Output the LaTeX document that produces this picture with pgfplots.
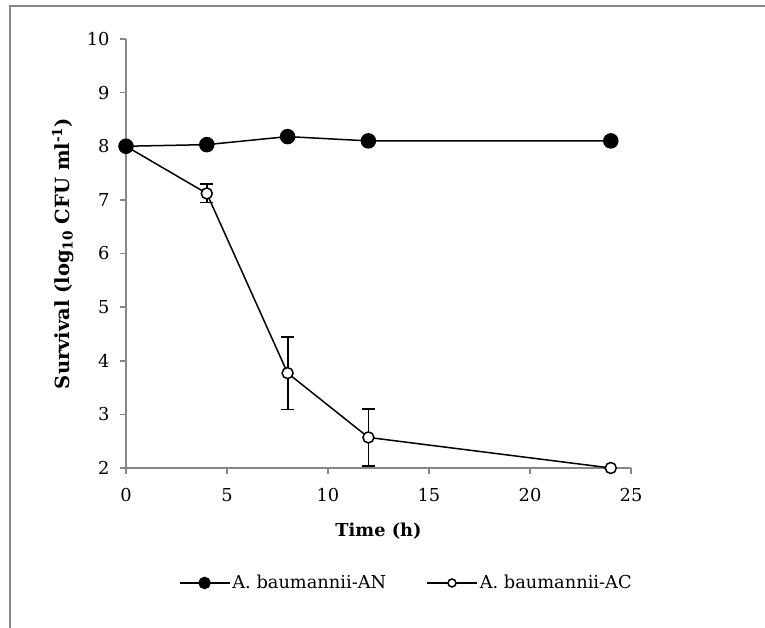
\documentclass[border=0pt]{standalone}
\usepackage{fontspec}
\setmainfont{DejaVu Serif}
\usepackage{pgfplots}
\pgfplotsset{compat=1.18}
\definecolor{axgray}{HTML}{868686}
\newcommand{\cf}{\fontsize{17.8}{21}\selectfont}
\newcommand{\yf}{\fontsize{19.5}{23}\selectfont}
\begin{document}
\begin{tikzpicture}
\path[use as bounding box] (0pt,0pt) rectangle (765pt,628pt);
\draw[axgray, line width=2pt] (10pt,0pt) -- (10pt,622pt) -- (765pt,622pt);
\begin{axis}[
  at={(126pt,160pt)}, anchor=south west,
  scale only axis, width=505pt, height=429pt,
  xmin=0, xmax=25, ymin=2, ymax=10,
  axis x line*=bottom, axis y line*=left,
  axis line style={axgray, line width=1.6pt, -},
  xtick={0,5,10,15,20,25}, ytick={2,3,4,5,6,7,8,9,10},
  tick align=outside, major tick length=6pt,
  tick style={axgray, line width=1.6pt},
  /pgf/number format/assume math mode=true,
  tick label style={font=\cf, text=black},
  xticklabel style={yshift=-11pt},
  yticklabel style={xshift=-7pt},
  clip=false,
  every axis x label/.style={at={(axis description cs:0.5,-0.147)}, anchor=center},
  every axis y label/.style={at={(axis description cs:-0.125,0.5)}, anchor=center, rotate=90},
  xlabel={\cf\bfseries Time (h)},
  ylabel={\yf\bfseries Survival (log\textsubscript{10} CFU ml\textsuperscript{-1})},
  legend columns=2,
  legend style={at={(axis description cs:0.555,-0.268)}, anchor=center, draw=none, fill=none, font=\cf,
    /tikz/every even column/.append style={column sep=38pt}},
  legend cell align=left,
]
\addplot[forget plot, black, line width=1.5pt, mark=*, mark size=5.5pt,
  mark options={fill=white, draw=black, line width=1.5pt},
  error bars/.cd, y dir=both, y explicit,
  error bar style={line width=1.8pt, black},
  error mark options={rotate=90, mark size=6.5pt, line width=1.8pt, black}]
  coordinates {(0,8.0) +- (0,0) (4,7.12) +- (0,0.17) (8,3.77) +- (0,0.68) (12,2.57) +- (0,0.53) (24,2.0) +- (0,0)};
\addplot[black, line width=1.5pt, mark=*, mark size=7pt, mark options={fill=black},
  legend image code/.code={\draw[black, line width=1.5pt] (0pt,0pt) -- (50pt,0pt);
    \fill[black] (25pt,0pt) circle (5.5pt);}]
  coordinates {(0,8.0) (4,8.03) (8,8.18) (12,8.1) (24,8.1)};
\addlegendentry{A. baumannii-AN}
\addlegendimage{legend image code/.code={\draw[black, line width=1.5pt] (0pt,0pt) -- (50pt,0pt);
    \draw[black, fill=white, line width=1.5pt] (25pt,0pt) circle (4pt);}}
\addlegendentry{A. baumannii-AC}
\end{axis}
\end{tikzpicture}
\end{document}
